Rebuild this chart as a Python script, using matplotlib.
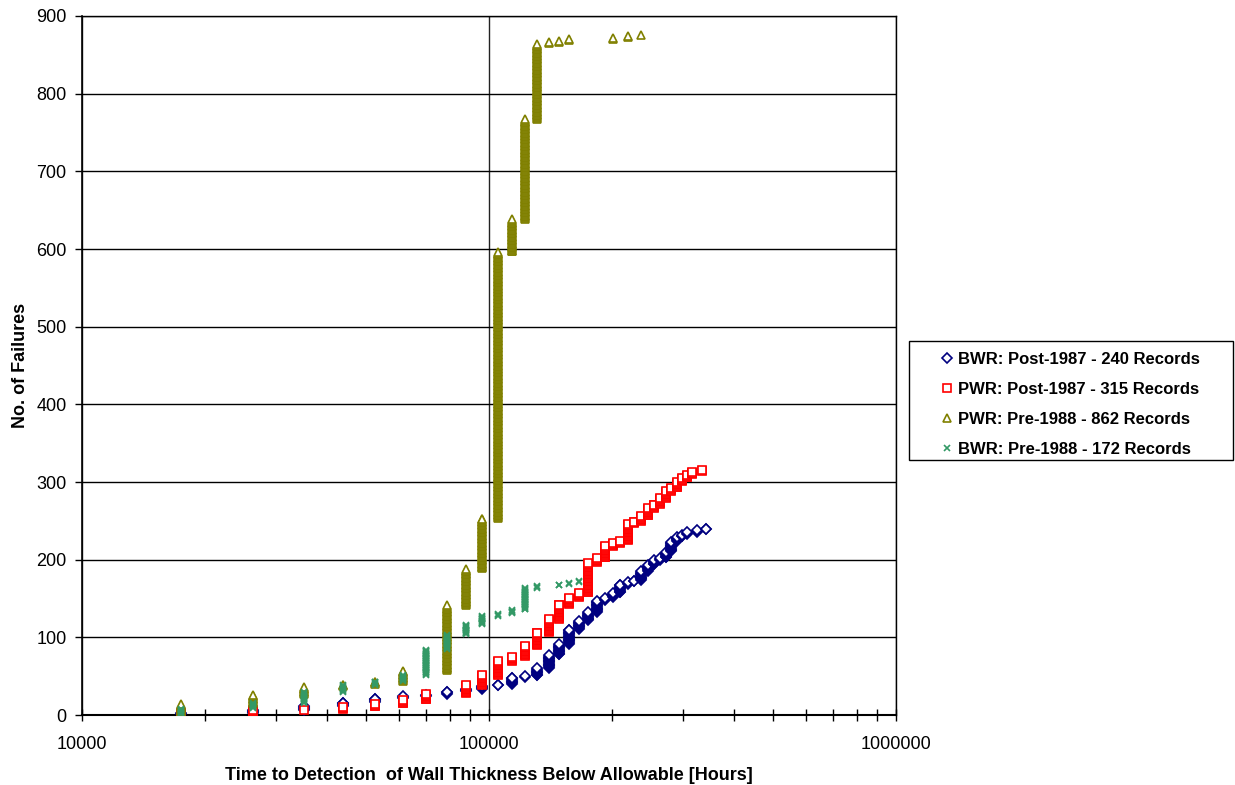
import matplotlib
matplotlib.use("Agg")
import matplotlib.pyplot as plt
from matplotlib.patches import Rectangle
from matplotlib.ticker import FixedLocator, NullFormatter, FixedFormatter, MultipleLocator

HOURS_PER_YEAR = 8760

# Cumulative failure counts by years of service (each record is one point)
bwr_post_years = [2, 3, 4, 5, 6, 7, 8, 9, 10, 11, 12, 13, 14, 15, 16, 17, 18, 19, 20,
                  21, 22, 23, 24, 25, 26, 27, 28, 29, 30, 31, 32, 33, 34, 35, 37, 39]
bwr_post_cum = [2, 6, 11, 16, 21, 24, 26, 30, 33, 37, 39, 48, 50, 60, 77, 91, 110, 121, 132,
                147, 151, 157, 168, 171, 173, 185, 193, 199, 202, 210, 223, 229, 232, 235, 238, 240]

pwr_post_years = [2, 3, 4, 5, 6, 7, 8, 10, 11, 12, 13, 14, 15, 16, 17, 18, 19, 20,
                  21, 22, 23, 24, 25, 26, 27, 28, 29, 30, 31, 32, 33, 34, 35, 36, 38]
pwr_post_cum = [2, 6, 7, 10, 14, 19, 27, 38, 51, 69, 75, 89, 106, 123, 142, 151, 157, 196,
                202, 217, 221, 224, 246, 249, 256, 266, 271, 279, 288, 292, 300, 305, 309, 313, 315]

pwr_pre_years = [2, 3, 4, 5, 6, 7, 9, 10, 11, 12, 13, 14, 15, 16, 17, 18, 23, 25, 27]
pwr_pre_cum = [14, 26, 36, 39, 43, 57, 141, 188, 253, 596, 638, 767, 864, 866, 868, 870, 872, 874, 875]

bwr_pre_years = [2, 3, 4, 5, 6, 7, 8, 9, 10, 11, 12, 13, 14, 15, 17, 18, 19]
bwr_pre_cum = [8, 15, 29, 38, 43, 51, 84, 103, 116, 127, 130, 135, 163, 166, 168, 170, 172]

labels = ["BWR: Post-1987 - 240 Records",
          "PWR: Post-1987 - 315 Records",
          "PWR: Pre-1988 - 862 Records",
          "BWR: Pre-1988 - 172 Records"]


def expand(years, cum):
    xs, ys = [], []
    prev = 0
    for yr, c in zip(years, cum):
        for k in range(prev + 1, c + 1):
            xs.append(yr * HOURS_PER_YEAR)
            ys.append(k)
        prev = c
    return xs, ys


plt.rcParams['font.family'] = ['Liberation Sans', 'DejaVu Sans']

W, H = 1235, 785
fig = plt.figure(figsize=(W / 100, H / 100), dpi=100)
ax = fig.add_axes([82 / W, 1 - 715 / H, (896 - 82) / W, (715 - 16) / H])

styles = [
    dict(marker='D', ms=5.4, mec='#000080', mfc='white', mew=1.2),
    dict(marker='s', ms=5.8, mec='#FF0000', mfc='white', mew=1.2),
    dict(marker='^', ms=5.6, mec='#808000', mfc='white', mew=1.2),
    dict(marker='x', ms=5.0, mec='#339966', mfc='#339966', mew=1.2),
]
series = [(bwr_post_years, bwr_post_cum), (pwr_post_years, pwr_post_cum),
          (pwr_pre_years, pwr_pre_cum), (bwr_pre_years, bwr_pre_cum)]

handles = []
for (yrs, cum), st, lab in zip(series, styles, labels):
    xs, ys = expand(yrs, cum)
    h, = ax.plot(xs, ys, linestyle='none', label=lab, zorder=3, **st)
    handles.append(h)

ax.set_xscale('log')
ax.set_xlim(10000, 1000000)
ax.set_ylim(0, 900)

ax.xaxis.set_major_locator(FixedLocator([10000, 100000, 1000000]))
ax.xaxis.set_major_formatter(FixedFormatter(['10000', '100000', '1000000']))
minors = [m * 10 ** e for e in (4, 5) for m in range(2, 10)]
ax.xaxis.set_minor_locator(FixedLocator(minors))
ax.xaxis.set_minor_formatter(NullFormatter())
ax.yaxis.set_major_locator(MultipleLocator(100))

ax.grid(True, which='major', axis='y', color='black', linewidth=1.0, zorder=1)
ax.grid(True, which='major', axis='x', color='#222222', linewidth=1.0, zorder=1)
ax.set_axisbelow(True)

for s in ax.spines.values():
    s.set_color('black')
    s.set_linewidth(1.0)
ax.spines['bottom'].set_linewidth(1.5)
ax.spines['left'].set_linewidth(1.2)

ax.tick_params(axis='x', which='both', direction='inout', length=8, width=1.0,
               colors='black', labelsize=13, pad=11)
ax.tick_params(axis='y', which='major', direction='out', length=5, width=1.0,
               colors='black', labelsize=13, pad=6)

ax.set_xlabel('Time to Detection  of Wall Thickness Below Allowable [Hours]',
              fontsize=13, fontweight='bold', labelpad=10)
ax.set_ylabel('No. of Failures', fontsize=13, fontweight='bold', labelpad=5)

# Legend frame drawn separately so the entries can sit inset on the left
fig.patches.append(Rectangle((909 / W, 1 - 460 / H), (1233 - 909) / W, (460 - 341) / H,
                             transform=fig.transFigure, facecolor='white',
                             edgecolor='black', linewidth=1.0, zorder=5))
leg = fig.legend(handles=handles, labels=labels, loc='upper left',
                 bbox_to_anchor=(925 / W, 1 - 340 / H),
                 bbox_transform=fig.transFigure, numpoints=1,
                 handlelength=1.2, handletextpad=0.1, borderpad=0.2,
                 labelspacing=0.9, frameon=False,
                 prop=dict(size=12, weight='bold'))
leg.set_zorder(6)

fig.savefig('out.png', dpi=100)
